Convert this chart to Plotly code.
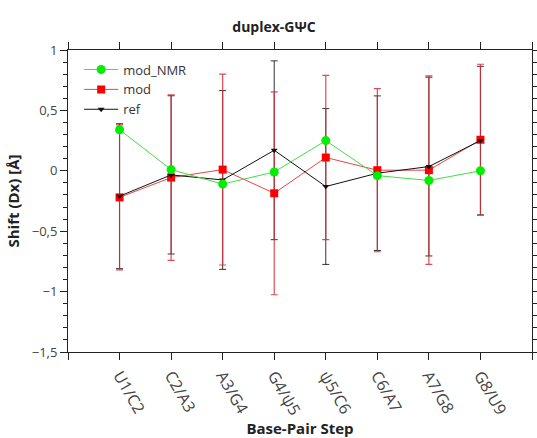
import plotly.graph_objects as go

steps = ["U1/C2", "C2/A3", "A3/G4", "G4/ψ5", "ψ5/C6", "C6/A7", "A7/G8", "G8/U9"]
xpos = [1, 2, 3, 4, 5, 6, 7, 8]

mod_nmr = [0.34, 0.01, -0.11, -0.01, 0.25, -0.04, -0.08, 0.00]

mod = [-0.22, -0.056, 0.01, -0.186, 0.11, 0.005, 0.005, 0.257]
mod_err = [0.60, 0.685, 0.79, 0.84, 0.68, 0.675, 0.78, 0.625]

ref = [-0.21, -0.034, -0.076, 0.17, -0.13, -0.02, 0.035, 0.25]
ref_err = [0.60, 0.655, 0.74, 0.74, 0.645, 0.64, 0.74, 0.615]

yticks = [1, 0.5, 0, -0.5, -1, -1.5]

fig = go.Figure()

# ref error bars underneath
fig.add_trace(go.Scatter(
    x=xpos, y=ref, mode="markers", showlegend=False, hoverinfo="skip",
    marker=dict(size=1, color="rgba(0,0,0,0)"),
    error_y=dict(type="data", array=ref_err, visible=True, color="rgba(30,30,30,0.9)",
                 thickness=1, width=3.5),
))
fig.add_trace(go.Scatter(
    x=xpos, y=mod, name="mod", mode="lines+markers", legendrank=2,
    line=dict(color="#e04848", width=1),
    marker=dict(symbol="square", size=8, color="#ff0000"),
    error_y=dict(type="data", array=mod_err, visible=True, color="rgba(215,45,55,0.85)",
                 thickness=1.2, width=3.5),
))
fig.add_trace(go.Scatter(
    x=xpos, y=ref, name="ref", mode="lines+markers", legendrank=3,
    line=dict(color="#111111", width=1),
    marker=dict(symbol="triangle-down", size=6, color="#111111"),
))
fig.add_trace(go.Scatter(
    x=xpos, y=mod_nmr, name="mod_NMR", mode="lines+markers", legendrank=1,
    line=dict(color="#44dd44", width=1),
    marker=dict(symbol="circle", size=9, color="#00ee00"),
))

fig.update_layout(
    width=537, height=438,
    margin=dict(l=68, r=5, t=50, b=86),
    paper_bgcolor="white", plot_bgcolor="white",
    separators=",.",
    font=dict(family="Open Sans", size=12, color="#444444"),
    title=dict(text="<b>duplex-GΨC</b>", x=274/537, xanchor="center", y=1 - 27/438,
               yanchor="middle", font=dict(size=14, color="#222222")),
    showlegend=True,
    legend=dict(x=0.024, y=0.985, xanchor="left", yanchor="top",
                bgcolor="rgba(0,0,0,0)", font=dict(size=13, color="#333333"),
                itemwidth=34, tracegroupgap=0, traceorder="normal"),
    xaxis=dict(
        range=[0, 9], tickmode="array", tickvals=[0] + xpos + [9],
        ticktext=[""] + steps + [""], tickangle=60, automargin=False,
        ticks="outside", ticklen=7, tickcolor="#222222",
        showline=True, linecolor="#222222", linewidth=1, mirror="ticks",
        showgrid=False, zeroline=False,
        title=dict(text="<b>Base-Pair Step</b>", font=dict(size=15, color="#222222"), standoff=11),
        tickfont=dict(size=16, color="#444444"),
    ),
    yaxis=dict(
        range=[-1.5, 1], tickmode="array", tickvals=yticks, automargin=False,
        ticks="outside", ticklen=7, tickcolor="#222222",
        minor=dict(dtick=0.1, ticks="outside", ticklen=4, tickcolor="#222222", showgrid=False),
        showline=True, linecolor="#222222", linewidth=1, mirror="ticks",
        showgrid=False, zeroline=False,
        title=dict(text="<b>Shift (Dx) [Å]</b>", font=dict(size=15, color="#222222"), standoff=8),
        tickfont=dict(size=13, color="#444444"),
    ),
)

fig.write_html("out.html")
